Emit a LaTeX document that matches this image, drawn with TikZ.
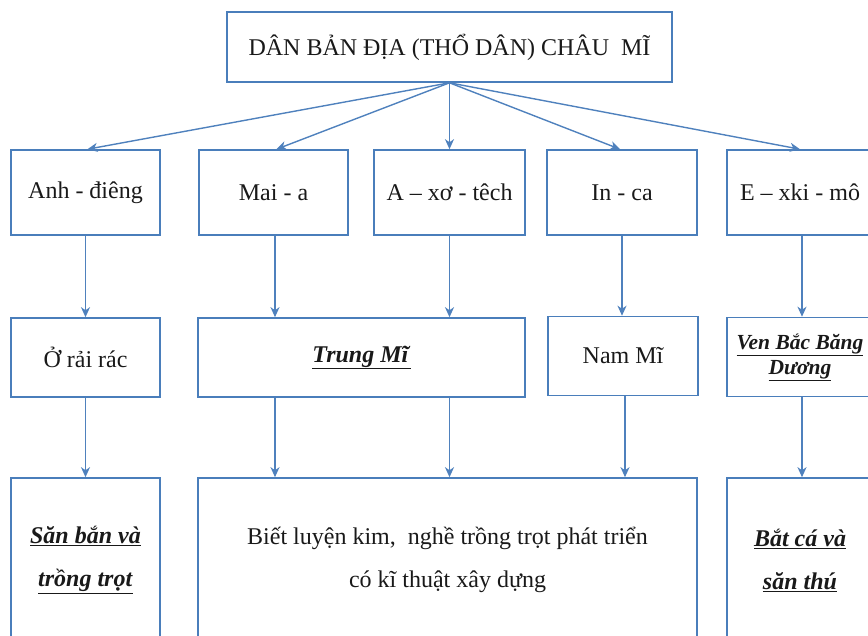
\documentclass[tikz,border=0pt]{standalone}
\usepackage{fontspec}
\setmainfont{Liberation Serif}
\usetikzlibrary{arrows.meta}
\definecolor{boxblue}{RGB}{74,126,187}
\definecolor{arrblue}{RGB}{79,129,189}
\definecolor{inkc}{RGB}{25,25,25}
\newcommand{\uit}[1]{\underline{\textbf{\textit{#1}}}}
\begin{document}
\begin{tikzpicture}[x=1pt,y=-1pt,
  box/.style={draw=boxblue, line width=1.6pt, inner sep=2pt, text=inkc,
    font=\fontsize{24}{27}\selectfont, align=center},
  tall/.style={font=\fontsize{24}{43}\selectfont},
  arr/.style={draw=arrblue, line width=1.4pt, -{Stealth[length=10pt,width=9pt,inset=3pt]}}]
\useasboundingbox (0,0) rectangle (868,635);
\clip (0,0) rectangle (868,635);
% top
\node[box, minimum width=445pt, minimum height=70pt] (top) at (449.5,47) {DÂN BẢN ĐỊA (THỔ DÂN) CHÂU~~MĨ};
% row 1
\node[box, minimum width=149pt, minimum height=85pt] (anh) at (85.5,192.5) {Anh - điêng};
\node[box, minimum width=149pt, minimum height=85pt] (maia) at (273.5,192.5) {Mai - a};
\node[box, minimum width=151pt, minimum height=85pt] (axo) at (449.5,192.5) {A – xơ - têch};
\node[box, minimum width=150pt, minimum height=85pt] (inca) at (622,192.5) {In - ca};
\node[box, minimum width=146pt, minimum height=85pt] (exki) at (800,192.5) {E – xki - mô};
% row 2
\node[box, minimum width=149pt, minimum height=79pt] (orai) at (85.5,357.5) {Ở rải rác};
\node[box, minimum width=327pt, minimum height=79pt] (trung) at (361.5,357.5) {\uit{Trung Mĩ}};
\node[box, minimum width=150pt, minimum height=79pt] (nam) at (623,356) {Nam Mĩ};
\node[box, minimum width=146pt, minimum height=79pt, font=\fontsize{21.5}{25}\selectfont] (ven) at (800,357) {\uit{Ven Bắc Băng}\\\uit{Dương}};
% row 3
\node[box, tall, minimum width=149pt, minimum height=164pt] (san) at (85.5,560) {\uit{Săn bắn và}\\\uit{trồng trọt}};
\node[box, tall, minimum width=499pt, minimum height=164pt] (big) at (447.5,560) {Biết luyện kim,~ nghề trồng trọt phát triển\\có kĩ thuật xây dựng};
\node[box, tall, minimum width=146pt, minimum height=164pt] (bat) at (800,560) {\uit{Bắt cá và}\\\uit{săn thú}};
% fan arrows
\draw[arr] (top.south) -- ([xshift=2pt]anh.north);
\draw[arr] (top.south) -- ([xshift=3pt]maia.north);
\draw[arr] (top.south) -- (axo.north);
\draw[arr] (top.south) -- ([xshift=-2pt]inca.north);
\draw[arr] (top.south) -- (exki.north);
% row1 -> row2
\draw[arr] (anh.south) -- (orai.north);
\draw[arr] ([xshift=1.5pt]maia.south) -- ([xshift=1.5pt]maia.south |- trung.north);
\draw[arr] (axo.south) -- (axo.south |- trung.north);
\draw[arr] (inca.south) -- (inca.south |- nam.north);
\draw[arr] ([xshift=2pt]exki.south) -- ([xshift=2pt]exki.south |- ven.north);
% row2 -> row3
\draw[arr] (orai.south) -- (san.north);
\draw[arr] ([xshift=1.5pt]maia.south |- trung.south) -- ([xshift=1.5pt]maia.south |- big.north);
\draw[arr] (axo.south |- trung.south) -- (axo.south |- big.north);
\draw[arr] ([xshift=2pt]nam.south) -- ([xshift=2pt]nam.south |- big.north);
\draw[arr] ([xshift=2pt]ven.south) -- ([xshift=2pt]ven.south |- bat.north);
\end{tikzpicture}
\end{document}
